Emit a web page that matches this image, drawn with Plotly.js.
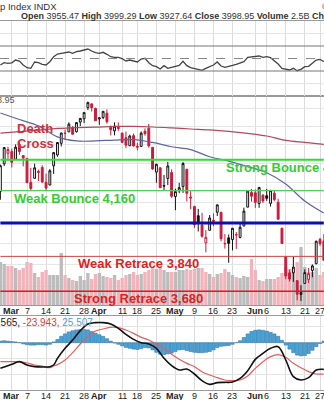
<!DOCTYPE html>
<html><head><meta charset="utf-8">
<script src="https://cdn.plot.ly/plotly-3.0.1.min.js"></script>
<style>html,body{margin:0;padding:0;background:#fff;overflow:hidden}#chart{width:324px;height:400px}</style>
</head><body><div id="chart"></div>
<script>
const dates = ['2022-02-24','2022-02-25','2022-02-28','2022-03-01','2022-03-02','2022-03-03','2022-03-04','2022-03-07','2022-03-08','2022-03-09','2022-03-10','2022-03-11','2022-03-14','2022-03-15','2022-03-16','2022-03-17','2022-03-18','2022-03-21','2022-03-22','2022-03-23','2022-03-24','2022-03-25','2022-03-28','2022-03-29','2022-03-30','2022-03-31','2022-04-01','2022-04-04','2022-04-05','2022-04-06','2022-04-07','2022-04-08','2022-04-11','2022-04-12','2022-04-13','2022-04-14','2022-04-18','2022-04-19','2022-04-20','2022-04-21','2022-04-22','2022-04-25','2022-04-26','2022-04-27','2022-04-28','2022-04-29','2022-05-02','2022-05-03','2022-05-04','2022-05-05','2022-05-06','2022-05-09','2022-05-10','2022-05-11','2022-05-12','2022-05-13','2022-05-16','2022-05-17','2022-05-18','2022-05-19','2022-05-20','2022-05-23','2022-05-24','2022-05-25','2022-05-26','2022-05-27','2022-05-31','2022-06-01','2022-06-02','2022-06-03','2022-06-06','2022-06-07','2022-06-08','2022-06-09','2022-06-10','2022-06-13','2022-06-14','2022-06-15','2022-06-16','2022-06-17','2022-06-21','2022-06-22','2022-06-23','2022-06-24','2022-06-27','2022-06-28'];
const opens = [4155.77,4298.38,4354.17,4363.14,4322.56,4401.31,4342.12,4327.01,4202.66,4223.10,4252.55,4279.50,4202.75,4188.82,4288.14,4345.11,4407.34,4462.40,4469.10,4493.10,4469.98,4522.91,4541.09,4602.86,4624.20,4599.02,4540.32,4547.97,4572.45,4494.17,4474.65,4494.15,4462.64,4437.59,4394.30,4449.12,4385.63,4390.63,4472.26,4489.17,4385.83,4255.34,4278.14,4186.52,4222.58,4253.75,4130.61,4159.78,4181.18,4270.43,4128.17,4081.27,4035.18,3990.08,3903.95,3963.90,4013.02,4052.00,4051.98,3899.00,3927.76,3919.42,3942.94,3929.59,3984.60,4077.43,4151.09,4149.78,4095.41,4137.57,4134.72,4096.47,4147.12,4101.65,3974.39,3838.15,3763.52,3764.05,3728.18,3665.90,3715.31,3733.89,3774.71,3805.81,3920.76,3913.00];
const highs = [4294.73,4385.34,4388.84,4378.45,4401.48,4416.78,4342.12,4327.01,4276.94,4299.40,4268.28,4291.01,4247.57,4271.05,4357.86,4412.67,4465.40,4481.75,4522.00,4501.07,4520.58,4546.03,4575.65,4637.30,4627.77,4603.07,4548.70,4583.50,4593.45,4503.94,4521.16,4520.83,4463.57,4471.00,4453.92,4460.46,4410.31,4471.03,4488.29,4512.94,4385.83,4299.02,4278.14,4240.71,4308.45,4269.68,4169.81,4200.10,4307.66,4270.43,4157.69,4081.27,4068.82,4049.09,3964.80,4038.88,4046.46,4090.72,4051.98,3945.96,3943.42,3975.48,3955.68,3999.33,4075.14,4158.49,4168.34,4166.54,4177.51,4142.67,4168.78,4164.86,4160.14,4119.10,3974.39,3838.15,3778.18,3837.56,3728.18,3707.71,3779.65,3785.99,3802.58,3913.65,3927.72,3945.86];
const lows = [4114.65,4286.83,4315.12,4279.54,4322.56,4345.56,4284.98,4199.85,4157.87,4223.10,4209.80,4200.49,4161.72,4187.90,4245.94,4335.65,4390.57,4424.30,4469.10,4455.81,4465.17,4501.07,4517.69,4589.66,4581.32,4530.41,4507.57,4539.21,4514.17,4450.04,4450.30,4474.60,4408.39,4381.34,4392.70,4390.77,4370.30,4390.63,4448.76,4384.47,4267.62,4200.82,4175.04,4162.90,4188.63,4124.28,4062.51,4147.08,4148.91,4106.01,4067.91,3975.48,3958.17,3928.82,3858.87,3963.90,3983.99,4033.93,3911.91,3876.58,3810.32,3868.14,3875.13,3925.03,3984.60,4077.43,4104.88,4073.85,4074.37,4098.67,4109.18,4080.19,4107.20,4017.17,3900.16,3734.30,3724.03,3722.30,3639.77,3636.87,3715.31,3717.69,3743.52,3803.28,3889.66,3820.14];
const closes = [4288.70,4384.65,4373.94,4306.26,4386.54,4363.49,4328.87,4201.09,4170.70,4277.88,4259.52,4204.31,4173.11,4262.45,4357.86,4411.67,4463.12,4461.18,4511.61,4456.24,4520.16,4543.06,4575.52,4631.60,4602.45,4530.41,4545.86,4582.64,4525.12,4481.15,4500.21,4488.28,4412.53,4397.45,4446.59,4392.59,4391.69,4462.21,4459.45,4393.66,4271.78,4296.12,4175.20,4183.96,4287.50,4131.93,4155.38,4175.48,4300.17,4146.87,4123.34,3991.24,4001.05,3935.18,3930.08,4023.89,4008.01,4088.85,3923.68,3900.79,3901.36,3973.75,3941.48,3978.73,4057.84,4158.24,4132.15,4101.23,4176.82,4108.54,4121.43,4160.68,4115.77,4017.82,3900.86,3749.63,3735.48,3789.99,3666.77,3674.84,3764.79,3759.89,3795.73,3911.74,3900.11,3821.55];
const prevClose0 = 4225.50;
const volumes = [4.3,4.1,3.9,3.9,3.7,3.5,3.7,4.3,4.2,3.2,2.8,3.3,3.5,3.0,3.0,3.0,5.2,3.0,2.7,2.5,2.4,2.9,2.5,3.2,2.6,3.1,3.2,2.9,2.8,2.7,3.0,2.5,2.7,3.0,3.1,3.3,3.0,3.1,3.3,3.5,3.8,3.6,3.8,3.5,3.3,3.3,3.3,3.5,3.5,3.6,3.5,3.6,3.7,3.7,3.3,3.1,2.8,3.1,3.2,3.6,3.3,3.0,2.8,2.7,2.9,2.8,4.6,3.5,2.5,2.4,2.6,2.6,2.6,2.8,3.2,3.8,3.6,3.6,4.3,5.8,3.8,3.3,3.3,3.7,3.0,3.3];
const rsi = [39.6,43.3,42.3,43,47.6,46,39.6,35.3,34.3,44.4,43.3,40.7,39.6,44.9,53,57.2,58.3,59.3,60.4,58.3,60.9,62,63.6,65.2,62,59.3,58.3,59.9,56.7,52.9,51.9,51.9,49.7,46,47.6,46,44.4,49.2,50.3,43.3,38.5,36.9,33.2,38.5,34.3,35.9,36.9,39,45.5,38.5,35.3,33.7,32.7,31.1,34.3,36.9,39.6,44.4,38,35.9,36.9,39,40.7,42.3,44.9,51.9,52.9,54,54,51.9,52.9,51.3,46.5,41.2,34.3,32.7,31.6,34.3,30.5,32.7,36.9,37.5,42.3,47.6,48.7,44.9];
const smaDates = ['2022-02-24','2022-03-03','2022-03-10','2022-03-17','2022-03-24','2022-03-31','2022-04-07','2022-04-14','2022-04-22','2022-04-29','2022-05-06','2022-05-13','2022-05-20','2022-05-27','2022-06-06','2022-06-13','2022-06-21','2022-06-28'];
const sma50 = [4573,4537,4502,4442,4420,4420,4425,4427,4412,4389,4374,4336,4313,4284,4252,4194,4108,4048];
const sma200 = [4462,4471,4479,4488,4492,4495,4499,4499,4496,4491,4485,4480,4472,4461,4447,4423,4412,4402];
const macdDates = ['2022-02-24','2022-02-25','2022-03-01','2022-03-03','2022-03-07','2022-03-09','2022-03-11','2022-03-15','2022-03-16','2022-03-17','2022-03-21','2022-03-23','2022-03-25','2022-03-29','2022-03-31','2022-04-04','2022-04-06','2022-04-08','2022-04-12','2022-04-14','2022-04-19','2022-04-21','2022-04-25','2022-04-27','2022-04-29','2022-05-03','2022-05-05','2022-05-09','2022-05-11','2022-05-13','2022-05-17','2022-05-19','2022-05-23','2022-05-25','2022-05-27','2022-06-01','2022-06-03','2022-06-07','2022-06-09','2022-06-13','2022-06-15','2022-06-17','2022-06-22','2022-06-24','2022-06-28'];
const macdLine = [-64.1,-60.75,-54.1,-47.4,-55.75,-59.9,-60.75,-59.9,-55.75,-39.1,-14.1,6.75,30.1,46.75,50.1,50.1,46.75,35.9,20.9,8.4,0.1,-3.25,-14.1,-39.1,-57.4,-68.25,-65.75,-78.25,-94.9,-104.1,-99.9,-99.1,-98.25,-89.1,-69.9,-41.6,-26.6,-14.1,-9.9,-43.25,-84.9,-93.25,-87.4,-68.25,-66.6];
const signalLine = [-47.4,-47.4,-47.4,-47.4,-50.75,-55.75,-58.25,-62.4,-58.25,-54.9,-43.25,-24.9,-3.25,15.1,29.25,34.25,38.4,37.6,31.75,23.4,13.4,6.75,-3.25,-14.1,-29.1,-41.6,-51.6,-59.9,-72.4,-80.75,-87.4,-93.25,-94.9,-93.25,-83.25,-64.1,-47.4,-34.9,-29.9,-36.6,-51.6,-62.4,-72.4,-78.25,-78.25];
const macdHist = [4,5,4,3,2,0,-3,-5,-6,-6,-5,-5,-6,-4,2,8,16,22,27,30,32,33,33,32,28,24,20,16,10,4,-1,-4,-8,-12,-14,-16,-17,-15,-12,-13,-18,-24,-29,-30,-28,-26,-22,-18,-17,-20,-22,-24,-25,-25,-24,-22,-18,-12,-9,-8,-7,-4,0,5,13,22,28,31,32,31,29,26,22,16,6,-6,-16,-25,-31,-33,-32,-27,-19,-10,-2,4];
const levelValues = [4320, 4160, 4000, 3840, 3680];
const levelLabels = ['Strong Bounce 4,320', 'Weak Bounce 4,160', '', 'Weak Retrace 3,840', 'Strong Retrace 3,680'];
const tickDates = ['2022-03-01','2022-03-07','2022-03-14','2022-03-21','2022-03-28','2022-04-01','2022-04-11','2022-04-18','2022-04-25','2022-05-02','2022-05-09','2022-05-16','2022-05-23','2022-06-01','2022-06-06','2022-06-13','2022-06-21','2022-06-27'];
const tickLabels = ['<b>Mar</b>','7','14','21','28','<b>Apr</b>','11','18','25','<b>May</b>','9','16','23','<b>Jun</b>','6','13','21','27'];

const FONT = 'Liberation Sans, Arial, sans-serif';
const prev = closes.map((c, i) => i === 0 ? prevClose0 : closes[i - 1]);
const isUp = closes.map((c, i) => c >= prev[i]);
function subset(flag) {
  const o = {x: [], open: [], high: [], low: [], close: []};
  dates.forEach((d, i) => { if (isUp[i] === flag) { o.x.push(d); o.open.push(opens[i]); o.high.push(highs[i]); o.low.push(lows[i]); o.close.push(closes[i]); } });
  return o;
}
function candleTrace(flag, col) {
  const s = subset(flag);
  return Object.assign({type: 'candlestick', xaxis: 'x2', yaxis: 'y4', hoverinfo: 'skip', whiskerwidth: 0,
    increasing: {line: {color: col, width: 1}, fillcolor: '#ffffff'},
    decreasing: {line: {color: col, width: 1}, fillcolor: col}}, s);
}
const levelStyles = [
  {color: '#2fdc2f', width: 2}, {color: '#55cc55', width: 1.2}, {color: '#0a10a8', width: 3},
  {color: '#cc4444', width: 1}, {color: '#e01818', width: 1.5}];
const first = dates[0], last = dates[dates.length - 1];

const traces = [
  {type: 'bar', x: dates, y: volumes, xaxis: 'x2', yaxis: 'y2', hoverinfo: 'skip',
   marker: {color: isUp.map(u => u ? '#bcbcbc' : '#f2b3bb'), line: {width: 0}}},
  {type: 'scatter', mode: 'lines', x: dates, y: rsi, xaxis: 'x3', yaxis: 'y', line: {color: '#444', width: 1.3}, hoverinfo: 'skip'},
  {type: 'scatter', mode: 'lines', x: smaDates, y: sma200, xaxis: 'x2', yaxis: 'y4', line: {color: '#b04a5a', width: 1.2, shape: 'spline'}, hoverinfo: 'skip'},
  {type: 'scatter', mode: 'lines', x: smaDates, y: sma50, xaxis: 'x2', yaxis: 'y4', line: {color: '#5a66a8', width: 1.2, shape: 'spline'}, hoverinfo: 'skip'}
];
levelValues.forEach((v, i) => traces.push({type: 'scatter', mode: 'lines', x: [first, last], y: [v, v], xaxis: 'x2', yaxis: 'y4', line: levelStyles[i], hoverinfo: 'skip'}));
traces.push(candleTrace(true, '#111111'));
traces.push(candleTrace(false, '#cc1a3a'));
traces.push({type: 'bar', x: dates, y: macdHist, xaxis: 'x', yaxis: 'y3', hoverinfo: 'skip', marker: {color: '#4aa3d6', line: {color: '#2b6f9e', width: 0.5}}});
traces.push({type: 'scatter', mode: 'lines', x: macdDates, y: signalLine, xaxis: 'x', yaxis: 'y3', line: {color: '#e06060', width: 1.2, shape: 'spline'}, hoverinfo: 'skip'});
traces.push({type: 'scatter', mode: 'lines', x: macdDates, y: macdLine, xaxis: 'x', yaxis: 'y3', line: {color: '#111', width: 1.6, shape: 'spline'}, hoverinfo: 'skip'});

const xr = [-0.101, 85.05];
function xax(anchor, extra) {
  return Object.assign({type: 'category', categoryorder: 'array', categoryarray: dates, range: xr, anchor: anchor,
    domain: [0, 1], tickvals: tickDates, ticktext: tickLabels, showticklabels: false, ticks: '', tickangle: 0,
    showgrid: true, gridcolor: '#dcdcdc', gridwidth: 1, showline: true, linecolor: '#9a9a9a', linewidth: 1, mirror: true,
    zeroline: false, rangeslider: {visible: false}, fixedrange: true, automargin: false}, extra || {});
}
const P = ypx => 1 - ypx / 400;
const annotations = [
  {xref: 'paper', yref: 'paper', x: 59 / 324, y: P(6.7), xanchor: 'right', yanchor: 'middle', showarrow: false,
   text: 'S&P 500 Large Cap Index INDX', font: {family: FONT, size: 9.5, color: '#333'}},
  {xref: 'paper', yref: 'paper', x: 19 / 324, y: P(16.3), xanchor: 'left', yanchor: 'middle', showarrow: false,
   text: '<b>Open</b> 3955.47 <b>High</b> 3999.29 <b>Low</b> 3927.64 <b>Close</b> 3998.95 <b>Volume</b> 2.5B <b>Chg</b> +43.48 (+1.10%)',
   font: {family: FONT, size: 9, color: '#333'}},
  {xref: 'paper', yref: 'paper', x: 320 / 324, y: P(6.7), xanchor: 'left', yanchor: 'middle', showarrow: false,
   text: '©StockCharts.com', font: {family: FONT, size: 9, color: '#333'}},
  {xref: 'paper', yref: 'paper', x: 17 / 324, y: P(100), xanchor: 'right', yanchor: 'middle', showarrow: false,
   text: '$SPX (Daily) 3998.95', font: {family: FONT, size: 9, color: '#555'}},
  {xref: 'paper', yref: 'paper', x: 15 / 324, y: P(128.3), xanchor: 'left', yanchor: 'middle', showarrow: false,
   text: 'Death', font: {family: FONT, size: 13, color: '#cc3340', weight: 'bold'}},
  {xref: 'paper', yref: 'paper', x: 15 / 324, y: P(143.3), xanchor: 'left', yanchor: 'middle', showarrow: false,
   text: 'Cross', font: {family: FONT, size: 13, color: '#cc3340', weight: 'bold'}},
  {xref: 'paper', yref: 'paper', x: 95 / 324, y: P(322.7), xanchor: 'right', yanchor: 'middle', showarrow: false,
   text: 'MACD(12,26,9) 1.565, <span style="color:#d04040">-23.943,</span> <span style="color:#4aa3d6">25.507</span>',
   font: {family: FONT, size: 10, color: '#222'}}
];
[310.8, 396].forEach(yp => tickDates.forEach((d, i) => annotations.push({
  xref: 'x', yref: 'paper', x: d, y: P(yp), xanchor: 'center', yanchor: 'middle', showarrow: false,
  text: tickLabels[i], font: {family: FONT, size: 9, color: '#222'}})));
const labelX = [224, 12, 0, 76, 72];
const labelColor = ['#33cc33', '#33cc33', '#000', '#dd2222', '#dd2222'];
levelValues.forEach((v, i) => {
  if (!levelLabels[i]) return;
  annotations.push({xref: 'paper', yref: 'y4', x: labelX[i] / 324, y: Math.log10(v), xanchor: 'left', yanchor: 'top', yshift: 2,
    showarrow: false, text: levelLabels[i], font: {family: FONT, size: 13, color: labelColor[i], weight: 'bold'}});
});
const shapes = [70, 50, 30].map(v => ({type: 'line', xref: 'paper', yref: 'y', x0: 0, x1: 1, y0: v, y1: v,
  line: {color: v === 50 ? '#888' : '#777', width: 1, dash: v === 50 ? 'dash' : 'solid'}}));

const layout = {
  width: 324, height: 400, margin: {l: 0, r: 0, t: 0, b: 0}, paper_bgcolor: '#fff', plot_bgcolor: '#fff',
  showlegend: false, bargap: 0.12, font: {family: FONT, size: 9, color: '#222'},
  xaxis: xax('y3'),
  xaxis2: xax('y2', {matches: 'x'}),
  xaxis3: xax('y', {matches: 'x'}),
  yaxis: {domain: [P(96), P(21)], range: [-10, 110], showticklabels: false, tickvals: [10, 90], showgrid: true, gridcolor: '#e4e4e4', zeroline: false, ticks: '', fixedrange: true},
  yaxis2: {domain: [P(305), P(96)], range: [0, 20.9], showticklabels: false, showgrid: false, zeroline: false, ticks: '', fixedrange: true},
  yaxis4: {overlaying: 'y2', anchor: 'x2', type: 'log', range: [Math.log10(3619), Math.log10(4669)], tickvals: [3700, 3800, 3900, 4000, 4100, 4200, 4300, 4400, 4500, 4600],
    showticklabels: false, showgrid: true, gridcolor: '#e6e6e6', zeroline: false, ticks: '', fixedrange: true},
  yaxis3: {domain: [P(390), P(316)], range: [-118.25, 66.75], showticklabels: false, tickvals: [-80, -40, 0, 40], showgrid: true, gridcolor: '#e4e4e4', zeroline: false, ticks: '', fixedrange: true},
  annotations: annotations, shapes: shapes
};
Plotly.newPlot('chart', traces, layout, {staticPlot: true, displayModeBar: false});
</script></body></html>
